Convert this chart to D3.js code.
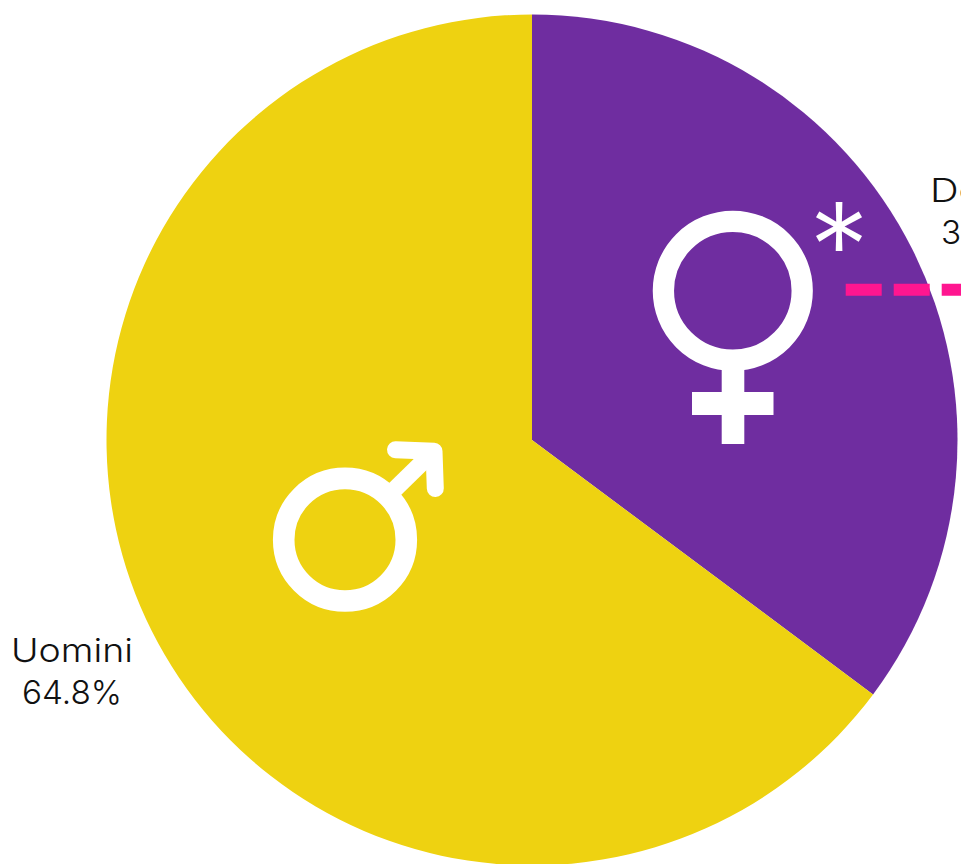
<!DOCTYPE html>
<html><head><meta charset="utf-8">
<script src="https://cdn.jsdelivr.net/npm/d3@7/dist/d3.min.js"></script>
<style>html,body{margin:0;padding:0;background:#fff;overflow:hidden}svg{display:block}
text{font-family:Inter,"Open Sans",sans-serif;font-weight:300;fill:#111}</style></head>
<body><div id="c"></div>
<script>
const categories = ["Donne", "Uomini"];
const values = [35.2, 64.8];
const colors = ["#6f2da0", "#eed211"];
const valueLabels = ["35.2%", "64.8%"];
const labelAnchors = [[991, 202, 244], [72, 662, 704]];
const nameWidth = 122, valueWidth = 100;

const width = 961, height = 864, cx = 532, cy = 440, R = 425.5;
const svg = d3.select("#c").append("svg").attr("width", width).attr("height", height);
const pie = d3.pie().sort(null).value(d => d)(values);
const arc = d3.arc().innerRadius(0).outerRadius(R);
svg.append("g").attr("transform", `translate(${cx},${cy})`)
  .selectAll("path").data(pie).join("path")
  .attr("d", arc).attr("fill", (d, i) => colors[i]);

// female symbol
const w = svg.append("g").attr("fill", "none").attr("stroke", "#fff");
w.append("circle").attr("cx", 732.8).attr("cy", 290.8).attr("r", 69.4).attr("stroke-width", 21.3);
w.append("line").attr("x1", 733).attr("x2", 733).attr("y1", 358).attr("y2", 444).attr("stroke-width", 22.6);
w.append("line").attr("x1", 692).attr("x2", 773.5).attr("y1", 403.5).attr("y2", 403.5).attr("stroke-width", 23);

// male symbol
w.append("circle").attr("cx", 345).attr("cy", 539.7).attr("r", 61.3).attr("stroke-width", 21.6);
w.append("line").attr("x1", 392).attr("y1", 492).attr("x2", 434).attr("y2", 451).attr("stroke-width", 17);
w.append("path").attr("d", "M395.5,449.7L434,451.3L435.3,488.5")
  .attr("stroke-width", 17).attr("stroke-linecap", "round").attr("stroke-linejoin", "round");

// asterisk
svg.append("text").attr("x", 839).attr("y", 289).attr("text-anchor", "middle")
  .style("font-size", "120px").style("fill", "#fff").text("*");

// dashed leader
svg.append("line").attr("x1", 845.7).attr("x2", 1000).attr("y1", 289.7).attr("y2", 289.7)
  .attr("stroke", "#ff1690").attr("stroke-width", 12).attr("stroke-dasharray", "36 12");

// labels
const label = (x, y, s, len) => svg.append("text").attr("x", x).attr("y", y)
  .attr("text-anchor", "middle").attr("textLength", len).attr("lengthAdjust", "spacingAndGlyphs")
  .style("font-size", "33px").text(s);
categories.forEach((c, i) => {
  const [x, y1, y2] = labelAnchors[i];
  label(x, y1, c, nameWidth);
  label(x, y2, valueLabels[i], valueWidth);
});
</script></body></html>
